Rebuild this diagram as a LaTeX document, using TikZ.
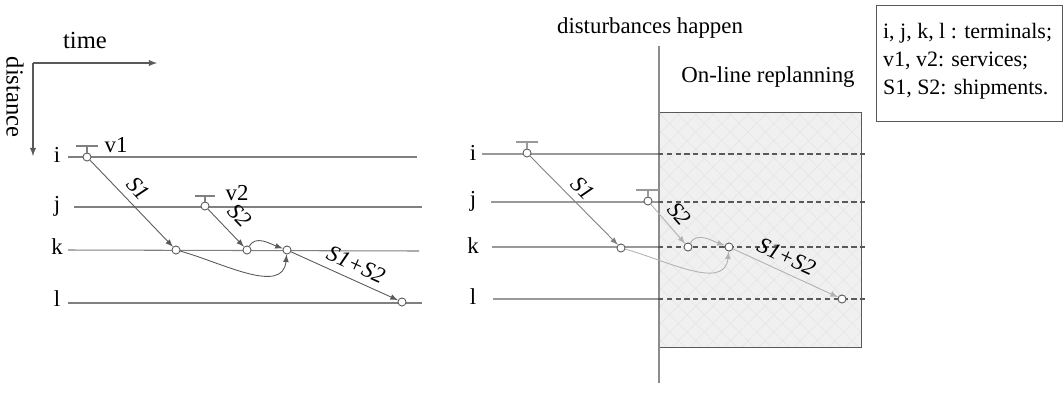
\documentclass[tikz,border=0pt]{standalone}
\usepackage{fontspec}
\setmainfont{Liberation Serif}
\usetikzlibrary{patterns.meta}

\begin{document}
\begin{tikzpicture}[>=latex, x=0.02cm, y=-0.02cm,
    every node/.style={font=\fontsize{13}{15}\selectfont, inner sep=1pt},
    term/.style={draw=black!50, line width=0.6pt},
    fterm/.style={draw=black!40, line width=0.6pt},
    dterm/.style={draw=black!65, line width=0.6pt, dash pattern=on 3pt off 2pt},
    ship/.style={draw=black!65, line width=0.5pt, ->},
    lship/.style={draw=black!30, line width=0.5pt, ->},
    hub/.style={circle, draw=black!65, fill=white, inner sep=0pt, minimum size=4.6pt, line width=0.5pt},
    slab/.style={sloped, above=3pt, font=\fontsize{13}{15}\selectfont\itshape}]
    \useasboundingbox (0,0) rectangle (1063,393);

    % axes
    \coordinate (O) at (33,63);
    \coordinate (T) at (157,63);
    \coordinate (D) at (33,156);
    \draw[black!65, line width=0.6pt, ->] (O) -- (T);
    \draw[black!65, line width=0.6pt, ->] (O) -- (D);
    \node[font=\fontsize{14}{16}\selectfont] (time) at (85,40) {time};
    \node[rotate=-90, font=\fontsize{14}{16}\selectfont] (dist) at (15,97) {distance};

    % left: planned schedule
    \node (Li) at (57,155) {i};
    \node (Lj) at (57,206) {j};
    \node (Lk) at (57,247) {k};
    \node (Ll) at (57,299) {l};
    \coordinate (Li0) at (68,157);  \coordinate (Li1) at (417,157);
    \coordinate (Lj0) at (74,207);  \coordinate (Lj1) at (422,207);
    \coordinate (Lk0) at (68,250);  \coordinate (Lk1) at (419,251);
    \coordinate (Ll0) at (68,303);  \coordinate (Ll1) at (422,303);
    \draw[term] (Li0) -- (Li1);
    \draw[term] (Lj0) -- (Lj1);
    \draw[term] (Lk0) -- (Lk1);
    \draw[term] (Ll0) -- (Ll1);

    \node[hub] (La) at (87,157) {};
    \node[hub] (Lb) at (205,206) {};
    \node[hub] (Lc) at (176,250) {};
    \node[hub] (Ld) at (247,250) {};
    \node[hub] (Le) at (287,250) {};
    \node[hub] (Lf) at (402,302) {};

    \coordinate (Lv1) at (87,146);
    \coordinate (Lv2) at (205,196);
    \draw[term] (La) -- (Lv1) (76,146) -- (98,146);
    \draw[term] (Lb) -- (Lv2) (195,196) -- (215,196);
    \node (v1) at (116,145) {v1};
    \node (v2) at (237,193) {v2};

    \draw[ship] (La) -- node[slab, pos=0.45] {S1} (Lc);
    \draw[ship] (Lb) -- node[slab, pos=0.5, above=2pt] {S2} (Ld);
    \draw[ship] (Ld) to[out=60, in=160] (Le);
    \draw[ship] (Lc) to[out=-15, in=-95] (Le);
    \draw[ship] (Le) -- node[slab, pos=0.55] {S1+S2} (Lf);

    % right: on-line replanning
    \draw[draw=none, fill=black!6] (658,112) rectangle (861,347);
    \draw[draw=none, pattern={Lines[angle=45, distance=7pt, line width=0.3pt]}, pattern color=black!10] (658,112) rectangle (861,347);
    \draw[draw=none, pattern={Lines[angle=-45, distance=7pt, line width=0.3pt]}, pattern color=black!10] (658,112) rectangle (861,347);
    \node[draw=black!65, line width=0.6pt, minimum width=203*0.02cm, minimum height=235*0.02cm, anchor=north west] (box) at (658,112) {};
    \coordinate (Ds0) at (659,46);
    \coordinate (Ds1) at (659,383);
    \draw[black!45, line width=0.6pt] (Ds0) -- (Ds1);
    \node (dist2) at (650,28) {disturbances happen};
    \node (repl) at (768,77) {On-line replanning};

    \node (Ri) at (473,153) {i};
    \node (Rj) at (473,201) {j};
    \node (Rk) at (473,246) {k};
    \node (Rl) at (473,297) {l};
    \coordinate (Ri0) at (482,154);  \coordinate (Ri1) at (658,154);  \coordinate (Ri2) at (867,154);
    \coordinate (Rj0) at (491,202);  \coordinate (Rj1) at (658,202);  \coordinate (Rj2) at (867,202);
    \coordinate (Rk0) at (492,247);  \coordinate (Rk1) at (658,247);  \coordinate (Rk2) at (867,247);
    \coordinate (Rl0) at (493,299);  \coordinate (Rl1) at (658,299);  \coordinate (Rl2) at (867,299);
    \draw[fterm] (Ri0) -- (Ri1);
    \draw[fterm] (Rj0) -- (Rj1);
    \draw[fterm] (Rk0) -- (Rk1);
    \draw[fterm] (Rl0) -- (Rl1);
    \draw[dterm] (Ri1) -- (Ri2);
    \draw[dterm] (Rj1) -- (Rj2);
    \draw[dterm] (Rk1) -- (Rk2);
    \draw[dterm] (Rl1) -- (Rl2);

    \node[hub] (Ra) at (527,153) {};
    \node[hub] (Rb) at (648,201) {};
    \node[hub] (Rc) at (621,248) {};
    \node[hub] (Rd) at (688,247) {};
    \node[hub] (Re) at (729,247) {};
    \node[hub] (Rf) at (842,299) {};

    \coordinate (Rv1) at (527,142);
    \coordinate (Rv2) at (648,190);
    \draw[fterm] (Ra) -- (Rv1) (516,142) -- (538,142);
    \draw[fterm] (Rb) -- (Rv2) (636,190) -- (659,190);

    \draw[ship, draw=black!50] (Ra) -- node[slab, pos=0.48] {S1} (Rc);
    \draw[lship] (Rb) -- node[slab, pos=0.5, text=black] {S2} (Rd);
    \draw[lship] (Rd) to[out=60, in=160] (Re);
    \draw[lship] (Rc) to[out=-15, in=-95] (Re);
    \draw[lship] (Re) -- node[slab, pos=0.45, text=black] {S1+S2} (Rf);

    % legend
    \node[draw=black!65, line width=0.6pt, minimum width=186*0.02cm, minimum height=116*0.02cm, anchor=north west] (legbox) at (876,5) {};
    \node[align=left, anchor=west, font=\fontsize{12.5}{16}\selectfont] (leg) at (881,61)
      {i, j, k, l : terminals;\\ v1, v2: services;\\ S1, S2: shipments.};
\end{tikzpicture}
\end{document}
